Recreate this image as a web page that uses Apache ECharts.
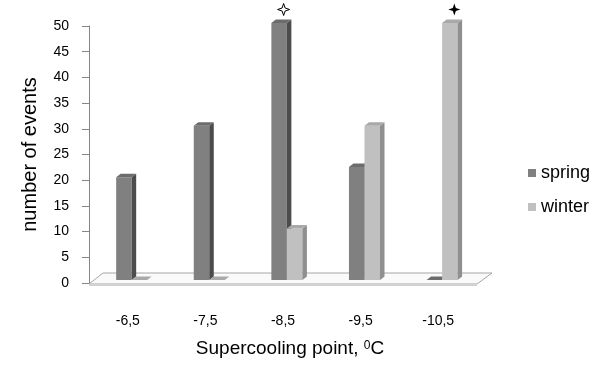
<!DOCTYPE html>
<html>
<head>
<meta charset="utf-8">
<script src="https://cdn.jsdelivr.net/npm/echarts@6/dist/echarts.min.js"></script>
<style>
  html, body { margin: 0; padding: 0; background: #fff; }
  #chart { width: 600px; height: 369px; }
</style>
</head>
<body>
<div id="chart"></div>
<script>
// données
var categories = ['-6,5', '-7,5', '-8,5', '-9,5', '-10,5'];
var springValues = [20, 30, 50, 22, 0];
var winterValues = [0, 0, 10, 30, 50];
// étoiles au-dessus des barres : 1 = étoile vide, 2 = étoile pleine
var springStars = [0, 0, 1, 0, 0];
var winterStars = [0, 0, 0, 0, 2];
var yTicks = [0, 50, 5]; // min, max, pas

var colors = {
    spring: { front: '#808080', side: '#4c4c4c', top: '#6c6c6c' },
    winter: { front: '#c0c0c0', side: '#8f8f8f', top: '#a9a9a9' }
};

function starPoints(cx, cy, r, i) {
    return [
        [cx, cy - r], [cx + i, cy - i], [cx + r, cy], [cx + i, cy + i],
        [cx, cy + r], [cx - i, cy + i], [cx - r, cy], [cx - i, cy - i]
    ];
}

// barre en pseudo 3D : face avant, côté, dessus
function makeBarRenderer(pal, left) {
    return function (params, api) {
        var cat = api.value(0);
        var base = api.coord([cat, 0]);
        var top = api.coord([cat, api.value(1)]);
        var bw = api.size([1, 0])[0];
        var w = bw * 0.2, sh = bw * 0.05;
        var dx = 4.5, dy = -3.5;
        var x0 = base[0] + sh - (left ? w : 0);
        var yb = base[1] - 3, yt = top[1] - 3;
        var children = [
            { type: 'rect', shape: { x: x0, y: yt, width: w, height: yb - yt },
              style: { fill: pal.front } },
            { type: 'polygon', shape: { points: [[x0 + w, yt], [x0 + w + dx, yt + dy], [x0 + w + dx, yb + dy], [x0 + w, yb]] },
              style: { fill: pal.side } },
            { type: 'polygon', shape: { points: [[x0, yt], [x0 + dx, yt + dy], [x0 + w + dx, yt + dy], [x0 + w, yt]] },
              style: { fill: pal.top } }
        ];
        var star = api.value(2);
        if (star) {
            var cx = x0 + w / 2 + dx, cy = yt + dy - 10;
            children.push({
                type: 'polygon',
                shape: { points: starPoints(cx, cy, 6, 1.5) },
                style: star === 1 ? { fill: '#fff', stroke: '#000', lineWidth: 1 } : { fill: '#000' }
            });
        }
        return { type: 'group', children: children };
    };
}

// plancher gris sous les barres
function renderFloor(params, api) {
    var cs = params.coordSys;
    var yf = cs.y + cs.height + 1;
    return {
        type: 'group',
        children: [
            { type: 'polygon',
              shape: { points: [[cs.x, yf], [cs.x + 14, yf - 11], [cs.x + cs.width + 15, yf - 11], [cs.x + cs.width, yf]] },
              style: { fill: '#fafafa', stroke: '#a6a6a6', lineWidth: 1 } },
            { type: 'line', shape: { x1: cs.x, y1: yf + 1.5, x2: cs.x + cs.width, y2: yf + 1.5 },
              style: { stroke: '#d0d0d0', lineWidth: 1 } }
        ]
    };
}

var springData = categories.map(function (c, i) { return [i, springValues[i], springStars[i]]; });
var winterData = categories.map(function (c, i) { return [i, winterValues[i], winterStars[i]]; });

var dom = document.getElementById('chart');
var myChart = echarts.init(dom, null, { renderer: 'canvas' });

var option = {
    animation: false,
    textStyle: { fontFamily: 'Liberation Sans', color: '#000' },
    grid: { left: 89, right: 123, top: 26, bottom: 86 },
    legend: {
        orient: 'vertical',
        left: 528,
        top: 164,
        padding: 0,
        icon: 'rect',
        itemWidth: 8,
        itemHeight: 8,
        itemGap: 16,
        data: ['spring', 'winter'],
        textStyle: { fontFamily: 'Liberation Sans', fontSize: 18, color: '#000' }
    },
    xAxis: {
        type: 'category',
        data: categories,
        axisLine: { show: false },
        axisTick: { show: false },
        axisLabel: { fontSize: 14, color: '#000', margin: 31 },
        name: 'Supercooling point, {sup|0}C',
        nameLocation: 'middle',
        nameGap: 56,
        nameTextStyle: {
            fontSize: 19, color: '#000', padding: [0, 0, 0, 14],
            rich: { sup: { fontSize: 12, padding: [0, 0, 5, 0] } }
        }
    },
    yAxis: {
        type: 'value',
        min: yTicks[0],
        max: yTicks[1],
        interval: yTicks[2],
        axisLine: { show: true, lineStyle: { color: '#868686', width: 1 } },
        axisTick: { show: true, length: 7, lineStyle: { color: '#868686' } },
        splitLine: { show: false },
        axisLabel: { fontSize: 14, color: '#000', margin: 20 },
        name: 'number of events',
        nameLocation: 'middle',
        nameGap: 49,
        nameTextStyle: { fontSize: 20, color: '#000' }
    },
    series: [
        { type: 'custom', name: 'floor', renderItem: renderFloor, data: [[0, 0]], z: 1, silent: true },
        { type: 'custom', name: 'spring', renderItem: makeBarRenderer(colors.spring, true),
          itemStyle: { color: colors.spring.front }, data: springData, encode: { x: 0, y: 1 }, z: 2 },
        { type: 'custom', name: 'winter', renderItem: makeBarRenderer(colors.winter, false),
          itemStyle: { color: colors.winter.front }, data: winterData, encode: { x: 0, y: 1 }, z: 3 }
    ]
};

myChart.setOption(option);
window.addEventListener('resize', myChart.resize);
</script>
</body>
</html>
